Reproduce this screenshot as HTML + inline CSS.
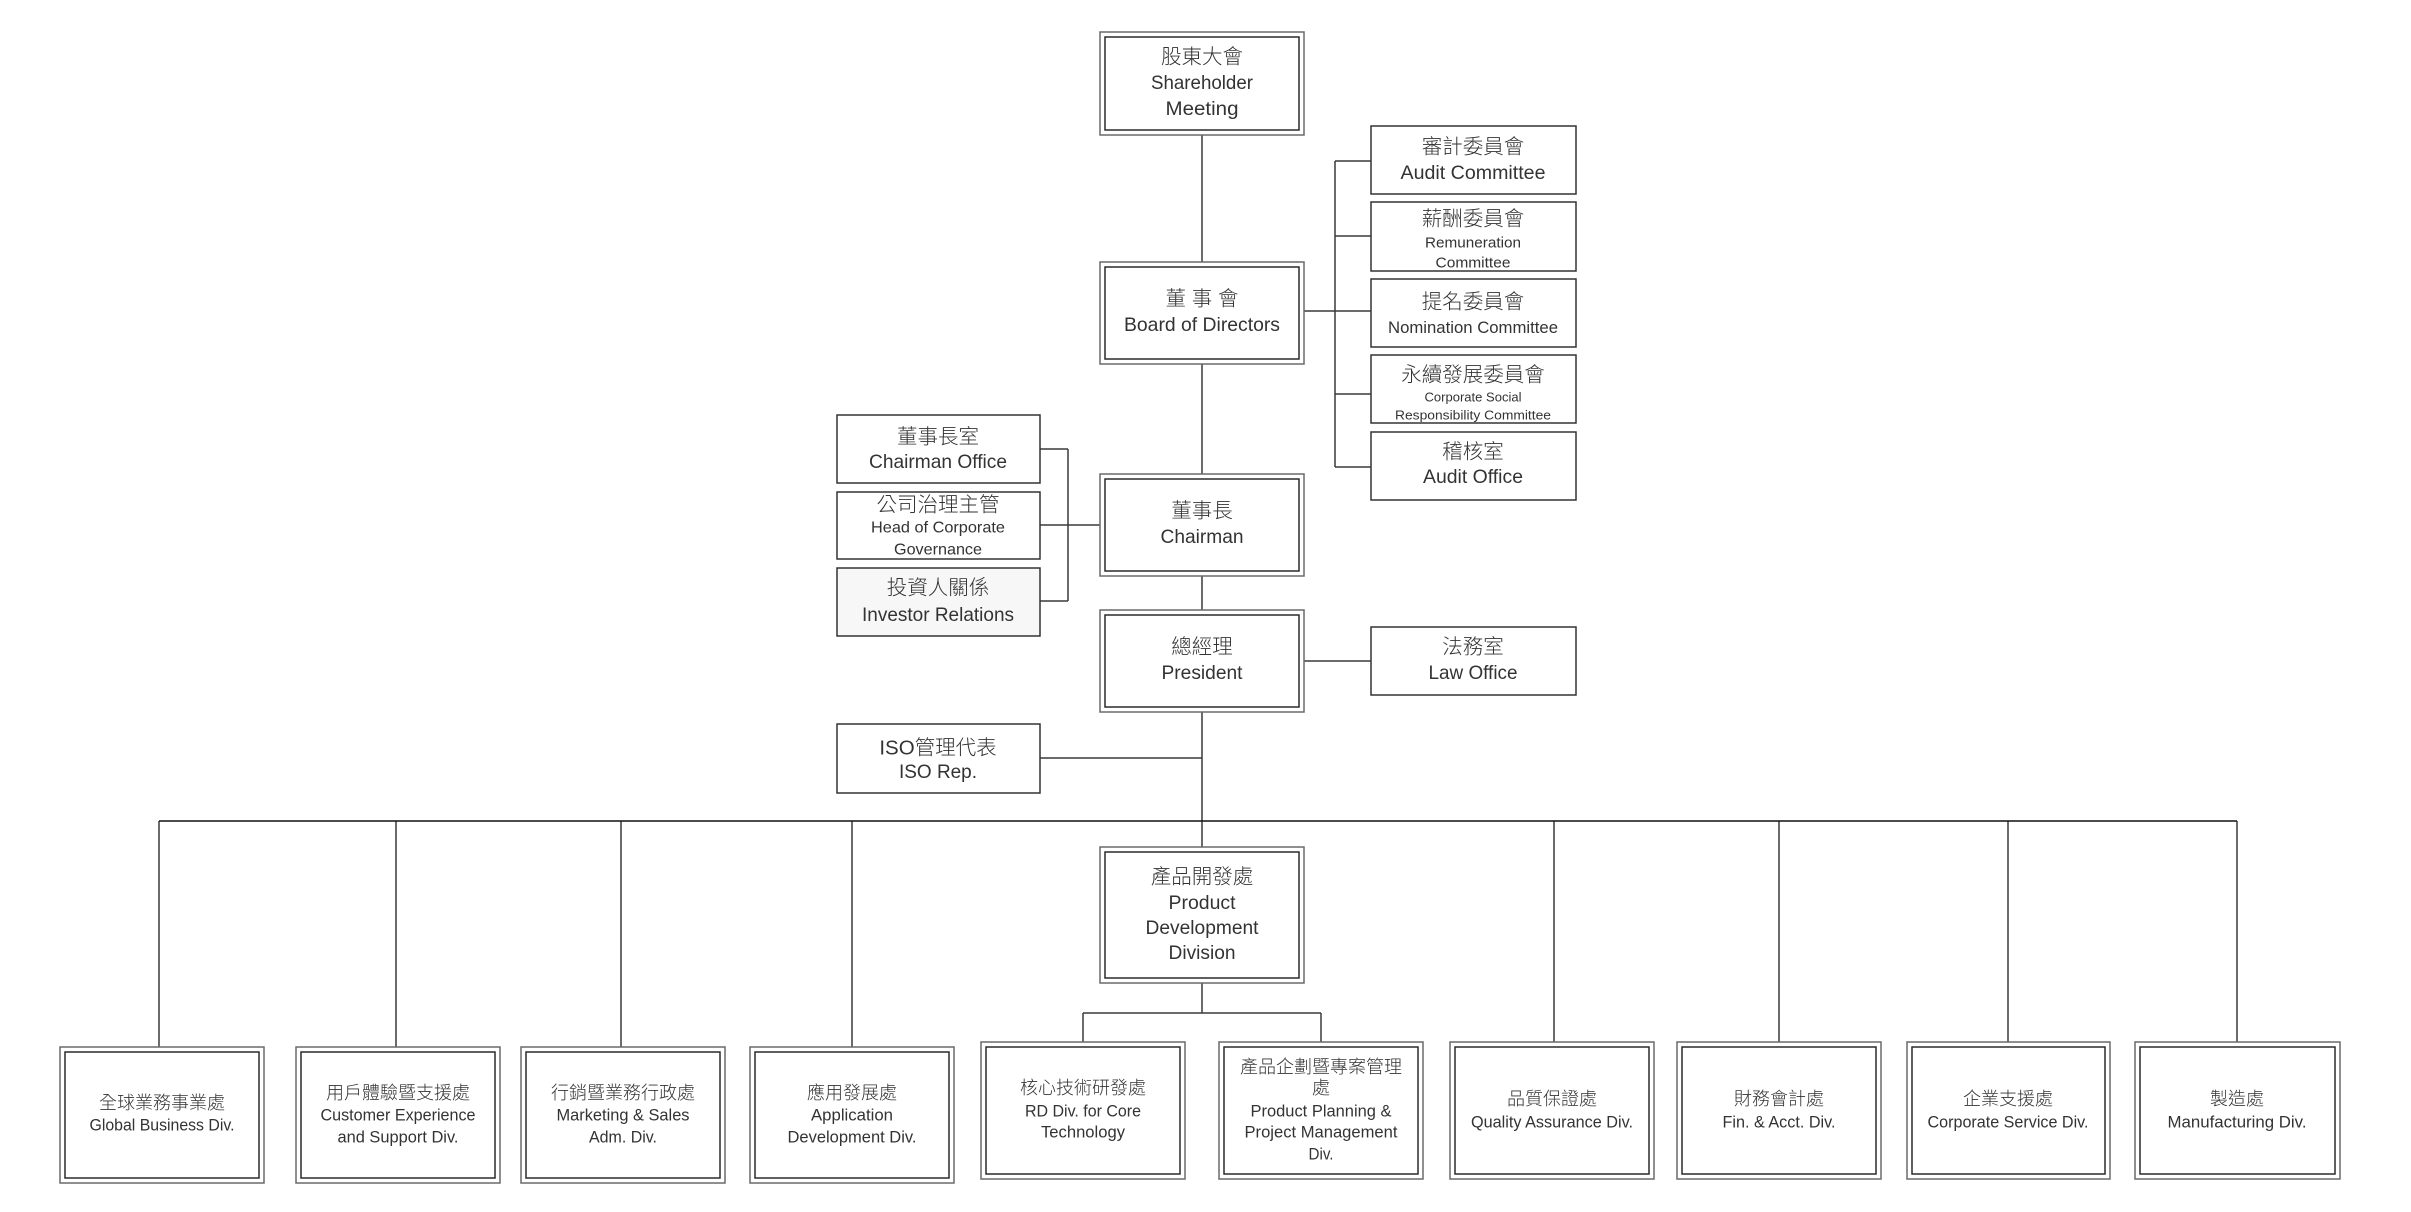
<!DOCTYPE html>
<html>
<head>
<meta charset="utf-8">
<style>
html,body{margin:0;padding:0;background:#fff;}
svg{display:block;}
text{font-family:"Liberation Sans","Noto Sans CJK TC","Noto Sans CJK SC",sans-serif;fill:#333;font-weight:300;text-anchor:middle;dominant-baseline:central;}
.cj{font-size:20.5px;}
.en{font-size:19.5px;}
.cjb{font-size:18px;}
.enb{font-size:17px;}
.o{fill:#fff;stroke:#6a6a6a;stroke-width:1.5;}
.i{fill:none;stroke:#2a2a2a;stroke-width:1.5;}
.s{fill:#fff;stroke:#333;stroke-width:1.5;}
.l{stroke:#3a3a3a;stroke-width:1.5;fill:none;}
.bus{stroke:#111;stroke-width:1.5;fill:none;}
</style>
</head>
<body>
<svg width="2411" height="1212" viewBox="0 0 2411 1212" xmlns="http://www.w3.org/2000/svg">
<rect x="0" y="0" width="2411" height="1212" fill="#fff"/>

<!-- connectors -->
<g class="l">
  <line x1="1202" y1="135" x2="1202" y2="262"/>
  <line x1="1202" y1="364" x2="1202" y2="474"/>
  <line x1="1202" y1="576" x2="1202" y2="610"/>
  <line x1="1202" y1="712" x2="1202" y2="847"/>
  <!-- committees -->
  <line x1="1304" y1="311" x2="1371" y2="311"/>
  <line x1="1335" y1="161" x2="1335" y2="467"/>
  <line x1="1335" y1="161" x2="1371" y2="161"/>
  <line x1="1335" y1="236" x2="1371" y2="236"/>
  <line x1="1335" y1="394" x2="1371" y2="394"/>
  <line x1="1335" y1="467" x2="1371" y2="467"/>
  <!-- left staff -->
  <line x1="1040" y1="449" x2="1068" y2="449"/>
  <line x1="1040" y1="525" x2="1100" y2="525"/>
  <line x1="1040" y1="601" x2="1068" y2="601"/>
  <line x1="1068" y1="449" x2="1068" y2="601"/>
  <!-- law office -->
  <line x1="1304" y1="661" x2="1371" y2="661"/>
  <!-- ISO -->
  <line x1="1040" y1="758" x2="1202" y2="758"/>
  <!-- drops -->
  <line x1="159" y1="821" x2="159" y2="1047"/>
  <line x1="396" y1="821" x2="396" y2="1047"/>
  <line x1="621" y1="821" x2="621" y2="1047"/>
  <line x1="852" y1="821" x2="852" y2="1047"/>
  <line x1="1554" y1="821" x2="1554" y2="1042"/>
  <line x1="1779" y1="821" x2="1779" y2="1042"/>
  <line x1="2008" y1="821" x2="2008" y2="1042"/>
  <line x1="2237" y1="821" x2="2237" y2="1042"/>
  <!-- product dev sub -->
  <line x1="1202" y1="983" x2="1202" y2="1013"/>
  <line x1="1083" y1="1013" x2="1321" y2="1013"/>
  <line x1="1083" y1="1013" x2="1083" y2="1042"/>
  <line x1="1321" y1="1013" x2="1321" y2="1042"/>
</g>
<line class="bus" x1="159" y1="821" x2="2237" y2="821"/>

<!-- double boxes -->
<g>
  <rect class="o" x="1100" y="32" width="204" height="103"/><rect class="i" x="1105" y="37" width="194" height="93"/>
  <rect class="o" x="1100" y="262" width="204" height="102"/><rect class="i" x="1105" y="267" width="194" height="92"/>
  <rect class="o" x="1100" y="474" width="204" height="102"/><rect class="i" x="1105" y="479" width="194" height="92"/>
  <rect class="o" x="1100" y="610" width="204" height="102"/><rect class="i" x="1105" y="615" width="194" height="92"/>
  <rect class="o" x="1100" y="847" width="204" height="136"/><rect class="i" x="1105" y="852" width="194" height="126"/>

  <rect class="o" x="60" y="1047" width="204" height="136"/><rect class="i" x="65" y="1052" width="194" height="126"/>
  <rect class="o" x="296" y="1047" width="204" height="136"/><rect class="i" x="301" y="1052" width="194" height="126"/>
  <rect class="o" x="521" y="1047" width="204" height="136"/><rect class="i" x="526" y="1052" width="194" height="126"/>
  <rect class="o" x="750" y="1047" width="204" height="136"/><rect class="i" x="755" y="1052" width="194" height="126"/>
  <rect class="o" x="981" y="1042" width="204" height="137"/><rect class="i" x="986" y="1047" width="194" height="127"/>
  <rect class="o" x="1219" y="1042" width="204" height="137"/><rect class="i" x="1224" y="1047" width="194" height="127"/>
  <rect class="o" x="1450" y="1042" width="204" height="137"/><rect class="i" x="1455" y="1047" width="194" height="127"/>
  <rect class="o" x="1677" y="1042" width="204" height="137"/><rect class="i" x="1682" y="1047" width="194" height="127"/>
  <rect class="o" x="1907" y="1042" width="203" height="137"/><rect class="i" x="1912" y="1047" width="193" height="127"/>
  <rect class="o" x="2135" y="1042" width="205" height="137"/><rect class="i" x="2140" y="1047" width="195" height="127"/>
</g>

<!-- single boxes -->
<g>
  <rect class="s" x="1371" y="126" width="205" height="68"/>
  <rect class="s" x="1371" y="202" width="205" height="69"/>
  <rect class="s" x="1371" y="279" width="205" height="68"/>
  <rect class="s" x="1371" y="355" width="205" height="68"/>
  <rect class="s" x="1371" y="432" width="205" height="68"/>
  <rect class="s" x="1371" y="627" width="205" height="68"/>
  <rect class="s" x="837" y="415" width="203" height="68"/>
  <rect class="s" x="837" y="492" width="203" height="67"/>
  <rect class="s" x="837" y="568" width="203" height="68" style="fill:#f7f7f7"/>
  <rect class="s" x="837" y="724" width="203" height="69"/>
</g>

<!-- texts: top -->
<text class="cj" x="1202" y="57">股東大會</text>
<text class="en" x="1202" y="83" textLength="102" lengthAdjust="spacingAndGlyphs">Shareholder</text>
<text class="en" x="1202" y="109" textLength="73" lengthAdjust="spacingAndGlyphs">Meeting</text>

<text class="cj" x="1202" y="299">董 事 會</text>
<text class="en" x="1202" y="325" textLength="156" lengthAdjust="spacingAndGlyphs">Board of Directors</text>

<text class="cj" x="1473" y="147">審計委員會</text>
<text class="en" x="1473" y="173" textLength="145" lengthAdjust="spacingAndGlyphs">Audit Committee</text>

<text class="cj" x="1473" y="219">薪酬委員會</text>
<text x="1473" y="243" style="font-size:15px" textLength="96" lengthAdjust="spacingAndGlyphs">Remuneration</text>
<text x="1473" y="263" style="font-size:15px" textLength="75" lengthAdjust="spacingAndGlyphs">Committee</text>

<text class="cj" x="1473" y="302">提名委員會</text>
<text x="1473" y="328" style="font-size:16.5px" textLength="170" lengthAdjust="spacingAndGlyphs">Nomination Committee</text>

<text class="cj" x="1473" y="375">永續發展委員會</text>
<text x="1473" y="397" style="font-size:13px" textLength="97" lengthAdjust="spacingAndGlyphs">Corporate Social</text>
<text x="1473" y="415" style="font-size:13px" textLength="156" lengthAdjust="spacingAndGlyphs">Responsibility Committee</text>

<text class="cj" x="1473" y="452">稽核室</text>
<text class="en" x="1473" y="477" textLength="100" lengthAdjust="spacingAndGlyphs">Audit Office</text>

<text class="cj" x="1202" y="511">董事長</text>
<text class="en" x="1202" y="537" textLength="83" lengthAdjust="spacingAndGlyphs">Chairman</text>

<text class="cj" x="1202" y="647">總經理</text>
<text class="en" x="1202" y="673" textLength="81" lengthAdjust="spacingAndGlyphs">President</text>

<text class="cj" x="1473" y="647">法務室</text>
<text class="en" x="1473" y="673" textLength="89" lengthAdjust="spacingAndGlyphs">Law Office</text>

<text class="cj" x="938" y="437">董事長室</text>
<text class="en" x="938" y="462" textLength="138" lengthAdjust="spacingAndGlyphs">Chairman Office</text>

<text class="cj" x="938" y="505">公司治理主管</text>
<text x="938" y="528" style="font-size:16px" textLength="134" lengthAdjust="spacingAndGlyphs">Head of Corporate</text>
<text x="938" y="550" style="font-size:16px" textLength="88" lengthAdjust="spacingAndGlyphs">Governance</text>

<text class="cj" x="938" y="588">投資人關係</text>
<text class="en" x="938" y="615" textLength="152" lengthAdjust="spacingAndGlyphs">Investor Relations</text>

<text class="cj" x="938" y="748">ISO管理代表</text>
<text class="en" x="938" y="772" textLength="78" lengthAdjust="spacingAndGlyphs">ISO Rep.</text>

<!-- product development -->
<text class="cj" x="1202" y="877">產品開發處</text>
<text class="en" x="1202" y="903" textLength="67" lengthAdjust="spacingAndGlyphs">Product</text>
<text class="en" x="1202" y="928" textLength="113" lengthAdjust="spacingAndGlyphs">Development</text>
<text class="en" x="1202" y="953" textLength="67" lengthAdjust="spacingAndGlyphs">Division</text>

<!-- bottom row -->
<text class="cjb" x="162" y="1103">全球業務事業處</text>
<text class="enb" x="162" y="1125" textLength="145" lengthAdjust="spacingAndGlyphs">Global Business Div.</text>

<text class="cjb" x="398" y="1093">用戶體驗暨支援處</text>
<text class="enb" x="398" y="1115" textLength="155" lengthAdjust="spacingAndGlyphs">Customer Experience</text>
<text class="enb" x="398" y="1137" textLength="121" lengthAdjust="spacingAndGlyphs">and Support Div.</text>

<text class="cjb" x="623" y="1093">行銷暨業務行政處</text>
<text class="enb" x="623" y="1115" textLength="133" lengthAdjust="spacingAndGlyphs">Marketing &amp; Sales</text>
<text class="enb" x="623" y="1137" textLength="68" lengthAdjust="spacingAndGlyphs">Adm. Div.</text>

<text class="cjb" x="852" y="1093">應用發展處</text>
<text class="enb" x="852" y="1115" textLength="82" lengthAdjust="spacingAndGlyphs">Application</text>
<text class="enb" x="852" y="1137" textLength="129" lengthAdjust="spacingAndGlyphs">Development Div.</text>

<text class="cjb" x="1083" y="1088">核心技術研發處</text>
<text class="enb" x="1083" y="1111" textLength="116" lengthAdjust="spacingAndGlyphs">RD Div. for Core</text>
<text class="enb" x="1083" y="1132" textLength="84" lengthAdjust="spacingAndGlyphs">Technology</text>

<text class="cjb" x="1321" y="1067">產品企劃暨專案管理</text>
<text class="cjb" x="1321" y="1088">處</text>
<text class="enb" x="1321" y="1111" textLength="141" lengthAdjust="spacingAndGlyphs">Product Planning &amp;</text>
<text class="enb" x="1321" y="1132" textLength="153" lengthAdjust="spacingAndGlyphs">Project Management</text>
<text class="enb" x="1321" y="1154" textLength="25" lengthAdjust="spacingAndGlyphs">Div.</text>

<text class="cjb" x="1552" y="1099">品質保證處</text>
<text class="enb" x="1552" y="1122" textLength="162" lengthAdjust="spacingAndGlyphs">Quality Assurance Div.</text>

<text class="cjb" x="1779" y="1099">財務會計處</text>
<text class="enb" x="1779" y="1122" textLength="113" lengthAdjust="spacingAndGlyphs">Fin. &amp; Acct. Div.</text>

<text class="cjb" x="2008" y="1099">企業支援處</text>
<text class="enb" x="2008" y="1122" textLength="161" lengthAdjust="spacingAndGlyphs">Corporate Service Div.</text>

<text class="cjb" x="2237" y="1099">製造處</text>
<text class="enb" x="2237" y="1122" textLength="139" lengthAdjust="spacingAndGlyphs">Manufacturing Div.</text>
</svg>
</body>
</html>
